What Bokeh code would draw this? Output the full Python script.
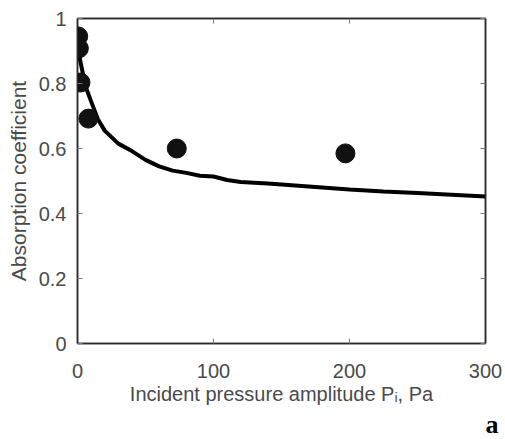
from bokeh.plotting import figure
from bokeh.models import LinearAxis, FixedTicker, Range1d, Title
from bokeh.embed import file_html
from bokeh.resources import INLINE

# measured points (incident pressure amplitude, absorption coefficient)
meas_p = [0.5, 1.0, 2.2, 8.0, 73.0, 197.0]
meas_alpha = [0.945, 0.908, 0.803, 0.692, 0.600, 0.585]

# predicted curve
model_p = [1, 2, 4, 6, 10, 15, 20, 30, 40, 50, 60, 70, 80, 90, 100, 110, 120,
           140, 160, 180, 200, 225, 250, 275, 300]
model_alpha = [0.90, 0.87, 0.83, 0.79, 0.745, 0.69, 0.655, 0.615, 0.592, 0.565,
               0.545, 0.532, 0.525, 0.516, 0.514, 0.503, 0.497, 0.492, 0.486,
               0.480, 0.474, 0.468, 0.463, 0.458, 0.452]

x_ticks = [0, 100, 200, 300]
y_ticks = [0, 0.2, 0.4, 0.6, 0.8, 1.0]
y_tick_labels = ["0", "0.2", "0.4", "0.6", "0.8", "1"]

FONT = "Liberation Sans"
TXT = "#4a4a4a"
FRAME = "#2a2a2a"

p = figure(width=505, height=439, output_backend="svg", toolbar_location=None,
           x_range=Range1d(0, 300), y_range=Range1d(0, 1),
           min_border_left=77, min_border_right=20, min_border_top=18,
           min_border_bottom=96, background_fill_color="white",
           border_fill_color="white")
p.grid.visible = False
p.outline_line_color = FRAME
p.outline_line_width = 1.5

for ax in [p.xaxis[0], p.yaxis[0]]:
    ax.major_tick_in = 5
    ax.major_tick_out = 0
    ax.minor_tick_in = 0
    ax.minor_tick_out = 0
    ax.axis_line_color = FRAME
    ax.axis_line_width = 1.5
    ax.major_tick_line_color = "#777777"
    ax.major_label_text_font = FONT
    ax.major_label_text_font_size = "20px"
    ax.major_label_text_color = TXT
    ax.axis_label_text_font = FONT
    ax.axis_label_text_font_style = "normal"
    ax.axis_label_text_color = TXT

p.xaxis[0].ticker = FixedTicker(ticks=x_ticks)
p.xaxis[0].major_label_standoff = 20
p.xaxis[0].axis_label = "Incident pressure amplitude P\u1d62, Pa"
p.xaxis[0].axis_label_text_font_size = "20px"
p.xaxis[0].axis_label_standoff = 2

p.yaxis[0].ticker = FixedTicker(ticks=y_ticks)
p.yaxis[0].major_label_standoff = 11
p.yaxis[0].major_label_overrides = {t: l for t, l in zip(y_ticks, y_tick_labels)}
p.yaxis[0].axis_label = "Absorption coefficient"
p.yaxis[0].axis_label_text_font_size = "21px"
p.yaxis[0].axis_label_standoff = 6

# mirrored ticks on top and right (box style), no labels
for loc, ticks in [("above", x_ticks), ("right", y_ticks)]:
    ax = LinearAxis(ticker=FixedTicker(ticks=ticks), major_tick_in=5, major_tick_out=0,
                    minor_tick_in=0, minor_tick_out=0,
                    major_label_text_font_size="1px", major_label_text_color=None,
                    major_label_standoff=0, axis_line_color=FRAME, axis_line_width=1.5,
                    major_tick_line_color="#777777")
    p.add_layout(ax, loc)

p.line(model_p, model_alpha, line_color="black", line_width=4)
p.scatter(meas_p, meas_alpha, size=19, fill_color="#111111", line_color="#111111")

# panel letter
p.add_layout(Title(text="a", align="right", offset=-13, standoff=0,
                   text_font="Liberation Serif", text_font_style="bold",
                   text_font_size="26px", text_color="black"), "below")

open("out.html", "w").write(file_html(p, INLINE))
